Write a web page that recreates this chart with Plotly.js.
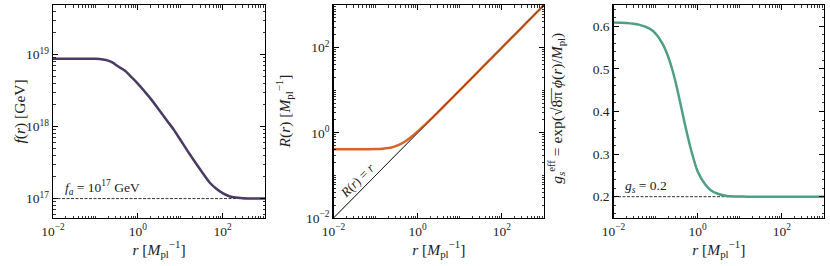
<!DOCTYPE html>
<html><head><meta charset="utf-8">
<script src="https://cdn.plot.ly/plotly-3.0.1.min.js"></script>
<style>html,body{margin:0;padding:0;background:#fff}#plot{width:830px;height:266px}</style>
</head><body><div id="plot"></div>
<script>
// shared radial grid r [M_pl^-1]
const rGrid = [0.01,0.02,0.04,0.07,0.1,0.15,0.2,0.25,0.3,0.4,0.5,0.7,1,1.5,2,3,5,7,10,15,20,30,50,70,100,150,200,300,500,1000];
// f(r) [GeV]
const fVals = [8.79e18,8.79e18,8.79e18,8.78e18,8.74e18,8.55e18,8.25e18,7.80e18,7.25e18,6.50e18,5.96e18,4.90e18,3.95e18,3.00e18,2.45e18,1.79e18,1.19e18,9.12e17,6.61e17,4.57e17,3.55e17,2.51e17,1.66e17,1.38e17,1.19e17,1.07e17,1.035e17,1.014e17,1.005e17,1.0e17];
// R(r) [M_pl^-1]
const RVals = [0.41,0.41,0.41,0.412,0.415,0.425,0.44,0.46,0.485,0.55,0.625,0.80,1.08,1.56,2.04,3.02,5.01,7.0,10,15,20,30,50,70,100,150,200,300,500,1000];
// g_s^eff
const gVals = [0.609,0.608,0.604,0.595,0.583,0.557,0.528,0.498,0.468,0.413,0.369,0.309,0.259,0.229,0.216,0.207,0.2015,0.2007,0.2003,0.2001,0.2,0.2,0.2,0.2,0.2,0.2,0.2,0.2,0.2,0.2];
// reference lines
const refX = [0.01, 1000];
const faLine = [1e17, 1e17];
const diagLine = [0.01, 1000];
const gsLine = [0.2, 0.2];
// tick labels
const logTickVals = [0.01, 1, 100];
const logTickText = ['10<sup>−2</sup>', '10<sup>0</sup>', '10<sup>2</sup>'];
const fTickVals = [1e17, 1e18, 1e19];
const fTickText = ['10<sup>17</sup>', '10<sup>18</sup>', '10<sup>19</sup>'];
// axis titles
const xTitle = '<i>r</i> [<i>M</i><sub>pl</sub><sup>−1</sup>]';
const yTitles = [
  '<i>f</i>(<i>r</i>) [GeV]',
  '<i>R</i>(<i>r</i>) [<i>M</i><sub>pl</sub><sup>−1</sup>]',
  '<i>g<sub>s</sub></i><sup>eff</sup> = exp(√8\u0305π\u0305 <i>ϕ</i>(<i>r</i>)/<i>M</i><sub>pl</sub>)'
];

function logMinor(d0, d1, skip){
  const out = [];
  for (let d = d0; d <= d1; d++) for (let k = 1; k <= 9; k++) {
    if (k === 1 && skip.includes(d)) continue;
    out.push(k * Math.pow(10, d));
  }
  return out;
}
const xMinor = logMinor(-2, 2, [-2, 0, 2]);
const fMinor = logMinor(16, 19, [17, 18, 19]);
const gMinor = [];
for (let i = 8; i <= 32; i++) if (i % 5 !== 0) gMinor.push(i * 0.02);

const colF = '#4b3a63', colR = '#d8642a', colG = '#4f9f87';
const FONT = 'Liberation Serif, DejaVu Serif, serif';
const W = 830, H = 266;
const yDom = [1 - 218/H, 1 - 5/H];
const TF = {family:FONT, size:13.5, color:'#222'};
const TT = {family:FONT, size:15.5, color:'#222'};

function minor(vals){
  return {tickmode:'array', tickvals:vals, ticks:'inside', ticklen:2.5, tickwidth:0.8, tickcolor:'#000', showgrid:false};
}
function base(){
  return {ticks:'inside', ticklen:5, tickwidth:1, tickcolor:'#000', mirror:'allticks', showline:true,
    linecolor:'#000', linewidth:1.3, showgrid:false, zeroline:false, tickfont:TF};
}
function xax(d, anchor){
  return Object.assign(base(), {domain:[d[0]/W, d[1]/W], anchor:anchor, type:'log', range:[-2,3],
    tickvals:logTickVals, ticktext:logTickText, minor:minor(xMinor),
    title:{text:xTitle, font:TT, standoff:2}});
}

const traces = [
  {x:refX, y:faLine, xaxis:'x', yaxis:'y', mode:'lines', line:{color:'#000', width:0.8, dash:'3px,1.5px'}},
  {x:rGrid, y:fVals, xaxis:'x', yaxis:'y', mode:'lines', line:{color:colF, width:2.5, shape:'spline', smoothing:0.8}},
  {x:refX, y:diagLine, xaxis:'x2', yaxis:'y2', mode:'lines', line:{color:'#000', width:0.8}},
  {x:rGrid, y:RVals, xaxis:'x2', yaxis:'y2', mode:'lines', line:{color:colR, width:2.5, shape:'spline', smoothing:0.8}},
  {x:refX, y:diagLine, xaxis:'x2', yaxis:'y2', mode:'lines', line:{color:'#000', width:0.6}, opacity:0.7},
  {x:refX, y:gsLine, xaxis:'x3', yaxis:'y3', mode:'lines', line:{color:'#000', width:0.8, dash:'3px,1.5px'}},
  {x:rGrid, y:gVals, xaxis:'x3', yaxis:'y3', mode:'lines', line:{color:colG, width:2.5, shape:'spline', smoothing:0.8}}
];

const d1 = [53,265], d2 = [333.5,544], d3 = [613.5,824];
const yMid = (yDom[0] + yDom[1]) / 2;
const yTitleX = [19, 284, 556];
const layout = {
  width:W, height:H, margin:{l:0,r:0,t:0,b:0}, showlegend:false,
  paper_bgcolor:'#fff', plot_bgcolor:'#fff', font:{family:FONT, color:'#222'},
  xaxis: xax(d1, 'y'),
  xaxis2: xax(d2, 'y2'),
  xaxis3: xax(d3, 'y3'),
  yaxis: Object.assign(base(), {domain:yDom, anchor:'x', type:'log', range:[16.73,19.69],
    tickvals:fTickVals, ticktext:fTickText, minor:minor(fMinor)}),
  yaxis2: Object.assign(base(), {domain:yDom, anchor:'x2', type:'log', range:[-2,3],
    tickvals:logTickVals, ticktext:logTickText, minor:minor(xMinor)}),
  yaxis3: Object.assign(base(), {domain:yDom, anchor:'x3', range:[0.15,0.65], dtick:0.1, tickformat:'.1f',
    minor:minor(gMinor)}),
  annotations:[
    {xref:'x', yref:'y', x:-1.76, y:17, xanchor:'left', yanchor:'bottom', showarrow:false,
     text:'<i>f<sub>a</sub></i> = 10<sup>17</sup> GeV', font:{family:FONT, size:13.5, color:'#222'}},
    {xref:'x2', yref:'y2', x:-1.275, y:-1.275, xshift:-7, yshift:7, textangle:-45, showarrow:false,
     text:'<i>R</i>(<i>r</i>) = <i>r</i>', font:{family:FONT, size:13, color:'#222'}},
    {xref:'x3', yref:'y3', x:-1.77, y:0.2, xanchor:'left', yanchor:'bottom', showarrow:false,
     text:'<i>g<sub>s</sub></i> = 0.2', font:{family:FONT, size:13.5, color:'#222'}}
  ].concat(yTitles.map((t, i) => ({xref:'paper', yref:'paper', x:yTitleX[i]/W, y:yMid + 0.01*(i===2),
     xanchor:'center', yanchor:'middle', textangle:-90, showarrow:false, text:t, font:TT})))
};
Plotly.newPlot('plot', traces, layout, {staticPlot:true, displayModeBar:false});
</script></body></html>
